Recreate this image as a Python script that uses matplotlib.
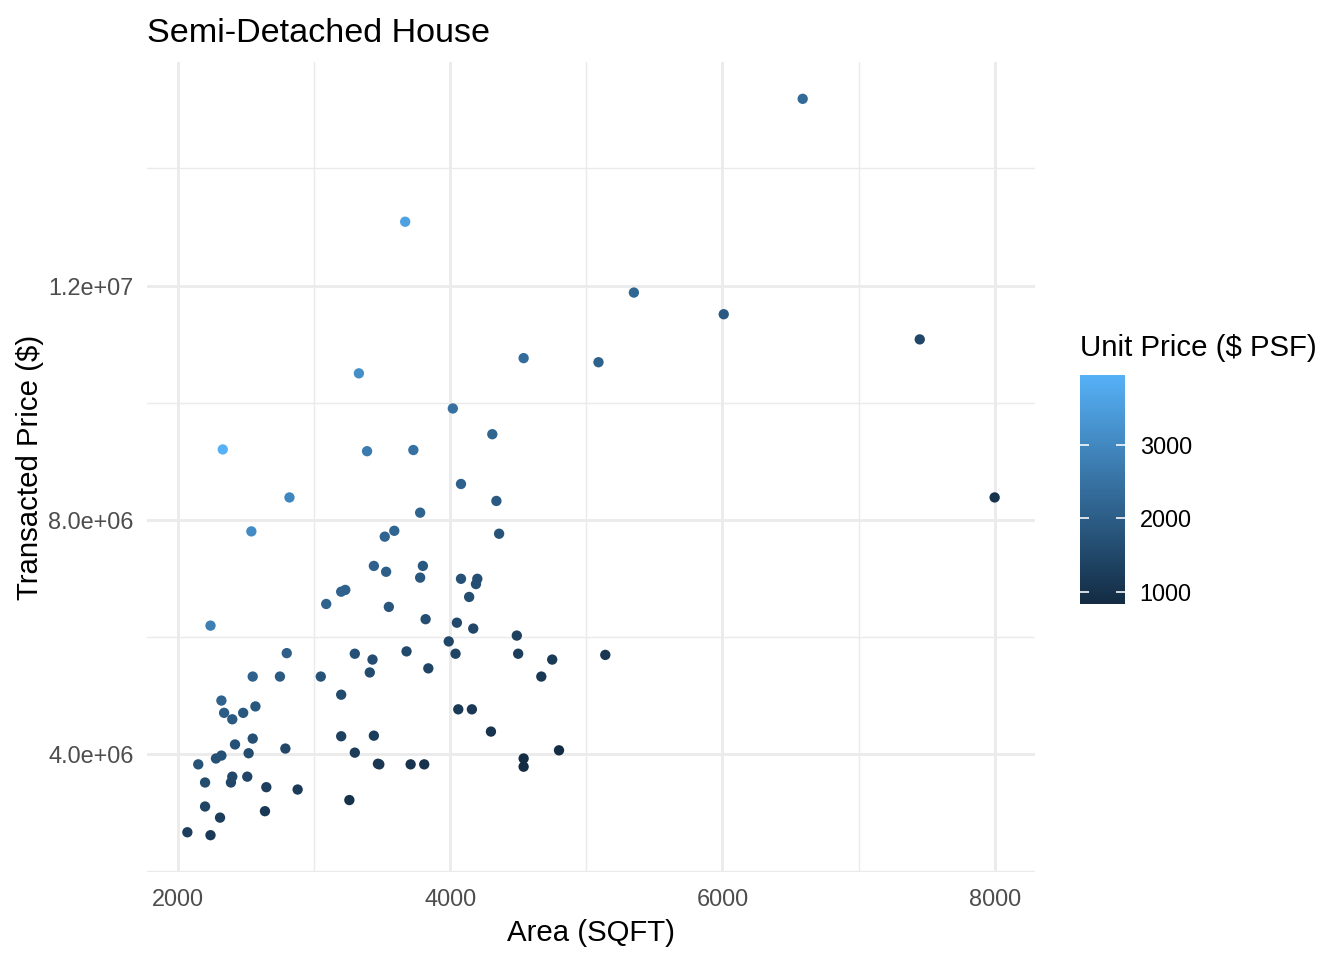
import numpy as np
import matplotlib
matplotlib.use("Agg")
import matplotlib.pyplot as plt
from matplotlib.colors import LinearSegmentedColormap
from matplotlib.ticker import MultipleLocator

plt.rcParams['font.family'] = ['Liberation Sans', 'DejaVu Sans']

# Semi-detached house transactions
area = [6590, 3670, 5350, 6010, 7450, 4540, 5090, 3330, 4020, 4310,
        2330, 3390, 3730, 2820, 8000, 4080, 2540, 4340, 3780, 4360,
        3590, 3520, 3440, 3800, 3530, 3780, 4080, 4200, 4190, 4140,
        3230, 3200, 3090, 3550, 3820, 2240, 4050, 4170, 4490, 3990,
        2800, 3300, 3680, 4040, 4500, 5140, 4750, 3430, 3840, 3410,
        2550, 2750, 3050, 4670, 3200, 2320, 2340, 2480, 2570, 2400,
        4060, 4160, 4300, 3200, 3440, 2550, 2420, 2790, 3300, 2520,
        4800, 2320, 2280, 2150, 3470, 3480, 3710, 3810, 4540, 4540,
        2200, 2400, 2390, 2510, 2650, 2880, 3260, 2200, 2640, 2310,
        2070, 2240]
price = [15190000, 13090000, 11880000, 11510000, 11080000, 10760000, 10690000, 10500000, 9900000, 9460000,
         9200000, 9170000, 9190000, 8380000, 8380000, 8610000, 7800000, 8320000, 8120000, 7760000,
         7810000, 7710000, 7210000, 7210000, 7110000, 7010000, 6990000, 6990000, 6900000, 6680000,
         6800000, 6770000, 6560000, 6510000, 6300000, 6190000, 6240000, 6140000, 6020000, 5920000,
         5720000, 5710000, 5750000, 5710000, 5710000, 5690000, 5610000, 5610000, 5460000, 5390000,
         5320000, 5320000, 5320000, 5320000, 5010000, 4910000, 4700000, 4700000, 4810000, 4590000,
         4760000, 4760000, 4380000, 4300000, 4310000, 4260000, 4160000, 4090000, 4020000, 4010000,
         4060000, 3970000, 3920000, 3820000, 3830000, 3820000, 3820000, 3820000, 3920000, 3780000,
         3510000, 3610000, 3510000, 3610000, 3430000, 3390000, 3210000, 3100000, 3020000, 2910000,
         2660000, 2610000]

area = np.array(area, dtype=float)
price = np.array(price, dtype=float)
unit_price = price / area

x_breaks = [2000, 4000, 6000, 8000]
y_breaks = [4e6, 8e6, 1.2e7]
y_labels = ["4.0e+06", "8.0e+06", "1.2e+07"]
cbar_breaks = [1000, 2000, 3000]

# ggplot default continuous colour scale
cmap = LinearSegmentedColormap.from_list("gg", ["#132B43", "#56B1F7"])

fig = plt.figure(figsize=(7, 5), dpi=192)
ax = fig.add_axes([147/1344, 1-872/960, (1035-147)/1344, (872-62)/960])

sc = ax.scatter(area, price, c=unit_price, cmap=cmap, s=15, linewidths=0,
                vmin=unit_price.min(), vmax=unit_price.max(), zorder=3)

# 5% expansion like ggplot
xr = area.max() - area.min()
yr = price.max() - price.min()
ax.set_xlim(area.min() - 0.05*xr, area.max() + 0.05*xr)
ax.set_ylim(price.min() - 0.05*yr, price.max() + 0.05*yr)

ax.set_xticks(x_breaks)
ax.set_yticks(y_breaks)
ax.set_yticklabels(y_labels)
ax.xaxis.set_minor_locator(MultipleLocator(1000))
ax.yaxis.set_minor_locator(MultipleLocator(2e6))

ax.grid(which='major', color='#EBEBEB', linewidth=1.07)
ax.grid(which='minor', color='#EBEBEB', linewidth=0.53)
ax.set_axisbelow(True)
for sp in ax.spines.values():
    sp.set_visible(False)
ax.tick_params(which='both', length=0, labelsize=8.8, labelcolor='#4D4D4D', pad=5)
ax.tick_params(axis='x', pad=6)

ax.set_xlabel("Area (SQFT)", fontsize=11, labelpad=3)
ax.set_ylabel("Transacted Price ($)", fontsize=11, labelpad=1.5)
ax.set_title("Semi-Detached House", loc='left', fontsize=12.8, pad=7.5)

# colour bar legend
cax = fig.add_axes([1080/1344, 1-604/960, 45/1344, 229/960])
cbar = fig.colorbar(sc, cax=cax)
cbar.outline.set_visible(False)
cbar.set_ticks(cbar_breaks)
cax.tick_params(which='major', direction='in', length=3.4, width=0.6, color='white',
                left=True, right=True, labelsize=8.8, labelcolor='black', pad=5.5)
cax.minorticks_off()
fig.text(1080/1344, 1-348/960, "Unit Price ($ PSF)", fontsize=11, ha='left', va='center')

fig.savefig("out.png", dpi=192)
